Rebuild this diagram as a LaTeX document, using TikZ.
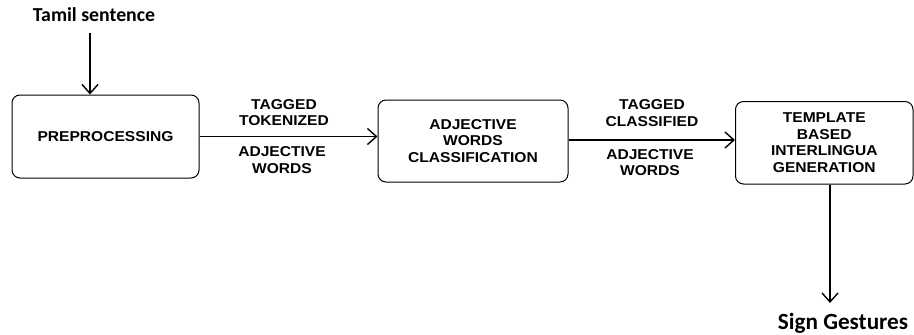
\documentclass[tikz,border=0pt]{standalone}
\usepackage{fontspec}
\setmainfont{Liberation Sans}
\newfontfamily\widefont[FakeStretch=1.09]{Liberation Sans}
\newfontfamily\calfont{Carlito}
\usetikzlibrary{arrows.meta}
\tikzset{
  box/.style={draw, line width=1pt, rounded corners=8pt, align=center, inner sep=0pt,
    font=\widefont\fontsize{14.3}{16.7}\selectfont\bfseries},
  lbl/.style={align=center, inner sep=0pt, font=\widefont\fontsize{14.3}{16.5}\selectfont\bfseries},
  flow/.style={line width=1.6pt, -{Straight Barb[length=9pt,width=16pt,line width=1.4pt]}},
}
\begin{document}
\begin{tikzpicture}[x=1pt,y=-1pt]
\useasboundingbox (0,0) rectangle (914,335);
\node[box, minimum width=187pt, minimum height=83pt] (pre) at (105.5,136.5) {PREPROCESSING};
\node[box, minimum width=190pt, minimum height=82pt] (adj) at (473,141) {ADJECTIVE\\WORDS\\CLASSIFICATION};
\node[box, minimum width=177.5pt, minimum height=82.5pt] (tmp) at (824.25,142.75) {TEMPLATE\\BASED\\INTERLINGUA\\GENERATION};
\node[anchor=base, inner sep=0pt, font=\calfont\bfseries\fontsize{19.8}{22}\selectfont] (ts) at (94,21.7) {Tamil sentence};
\node[anchor=base, inner sep=0pt, font=\calfont\bfseries\fontsize{23.2}{26}\selectfont] (sgt) at (843,329) {Sign Gestures};
\coordinate (tstop) at (90,33);
\coordinate (sg) at (830,303);
\draw[flow] (tstop) -- (tstop |- pre.north);
\draw[flow] (pre.east) -- (pre.east -| adj.west);
\draw[flow] (adj.east |- 0,140) -- (tmp.west |- 0,140);
\draw[flow] (tmp.south -| sg) -- (sg);
\node[lbl] (l1a) at (284,112.5) {TAGGED\\TOKENIZED};
\node[lbl] (l1b) at (282,160) {ADJECTIVE\\WORDS};
\node[lbl] (l2a) at (652,113) {TAGGED\\CLASSIFIED};
\node[lbl] (l2b) at (650,162.5) {ADJECTIVE\\WORDS};
\end{tikzpicture}
\end{document}
